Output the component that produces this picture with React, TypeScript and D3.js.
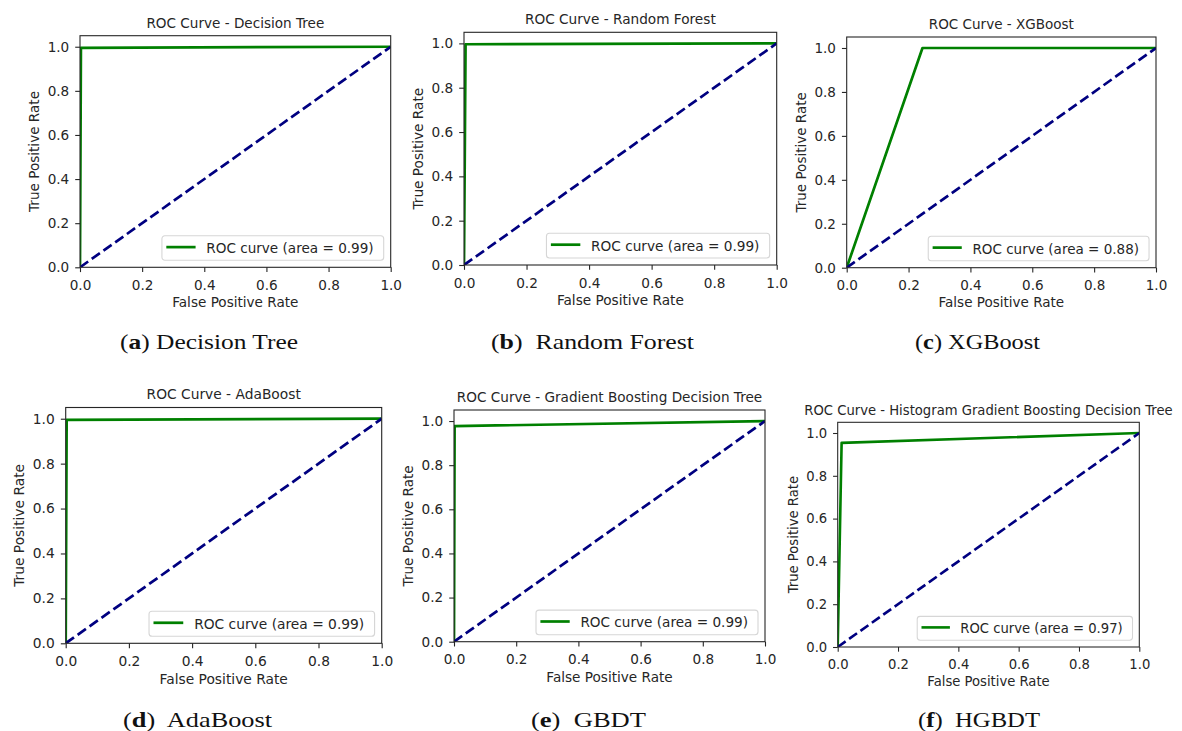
import React, { useEffect, useRef } from "react";
import * as d3 from "d3";

// ---- data ----
const modelTitles = [
  "Decision Tree",
  "Random Forest",
  "XGBoost",
  "AdaBoost",
  "Gradient Boosting Decision Tree",
  "Histogram Gradient Boosting Decision Tree",
];
const captionLetters = ["a", "b", "c", "d", "e", "f"];
const captionNames = ["Decision Tree", "Random Forest", "XGBoost", "AdaBoost", "GBDT", "HGBDT"];
const captionGaps = [" ", "  ", " ", "  ", "  ", "  "];
const aucValues = ["0.99", "0.99", "0.88", "0.99", "0.99", "0.97"];

const fprDT = [0, 0.003, 1];
const tprDT = [0, 0.995, 1];
const fprRF = [0, 0.005, 1];
const tprRF = [0, 0.996, 1];
const fprXGB = [0, 0.245, 1];
const tprXGB = [0, 1.0, 1];
const fprAda = [0, 0.003, 1];
const tprAda = [0, 0.995, 1];
const fprGBDT = [0, 0.002, 1];
const tprGBDT = [0, 0.977, 1];
const fprHGBDT = [0, 0.013, 1];
const tprHGBDT = [0, 0.954, 1];

const fprs = [fprDT, fprRF, fprXGB, fprAda, fprGBDT, fprHGBDT];
const tprs = [tprDT, tprRF, tprXGB, tprAda, tprGBDT, tprHGBDT];

const diagX = [0, 1];
const diagY = [0, 1];
const xTicks = [0, 0.2, 0.4, 0.6, 0.8, 1.0];
const yTicks = [0, 0.2, 0.4, 0.6, 0.8, 1.0];

// ---- layout (pixel boxes of each axes) ----
const panelBoxes = [
  { l: 80, t: 35.7, r: 390.7, b: 267.3 },
  { l: 464, t: 32.3, r: 776.7, b: 265 },
  { l: 846.7, t: 37, r: 1156, b: 267.7 },
  { l: 65.7, t: 407.5, r: 381.7, b: 643.3 },
  { l: 454, t: 410, r: 765, b: 641.7 },
  { l: 837.7, t: 422.3, r: 1139.3, b: 647 },
];
const captionBoxes = [
  { x: 120, y: 349, w: 178 },
  { x: 491, y: 349, w: 203 },
  { x: 915, y: 349, w: 125 },
  { x: 123, y: 727, w: 149 },
  { x: 531, y: 727, w: 115 },
  { x: 918, y: 727, w: 122 },
];

const SANS = "'DejaVu Sans', sans-serif";
const SERIF = "'Liberation Serif', 'DejaVu Serif', serif";
const TXT = "#262626";

export default function App() {
  const ref = useRef<SVGSVGElement | null>(null);

  useEffect(() => {
    const svg = d3.select(ref.current);
    svg.selectAll("*").remove();

    modelTitles.forEach((title, i) => {
      const box = panelBoxes[i];
      const W = box.r - box.l;
      const H = box.b - box.t;
      const s = W / 311;
      const fs = 13.6 * s;

      const x = d3.scaleLinear().domain([0, 1]).range([0, W]);
      const y = d3.scaleLinear().domain([0, 1.05]).range([H, 0]);

      const g = svg.append("g").attr("transform", `translate(${box.l},${box.t})`);

      const clipId = `clip-${i}`;
      g.append("clipPath").attr("id", clipId).append("rect").attr("width", W).attr("height", H);

      g.append("rect").attr("width", W).attr("height", H).attr("fill", "white");

      const plot = g.append("g").attr("clip-path", `url(#${clipId})`);

      const line = d3
        .line<[number, number]>()
        .x((d) => x(d[0]))
        .y((d) => y(d[1]));

      const roc: [number, number][] = fprs[i].map((f, k) => [f, tprs[i][k]]);
      plot
        .append("path")
        .attr("d", line(roc))
        .attr("fill", "none")
        .attr("stroke", "green")
        .attr("stroke-width", 2.7 * s)
        .attr("stroke-linejoin", "round");

      const diag: [number, number][] = diagX.map((v, k) => [v, diagY[k]]);
      plot
        .append("path")
        .attr("d", line(diag))
        .attr("fill", "none")
        .attr("stroke", "navy")
        .attr("stroke-width", 2.7 * s)
        .attr("stroke-dasharray", `${10 * s},${4.4 * s}`);

      // axes
      const tickLen = 4.8 * s;
      const xAxis = d3
        .axisBottom(x)
        .tickValues(xTicks)
        .tickSize(tickLen)
        .tickPadding(8.2 * s)
        .tickFormat(d3.format(".1f"));
      const yAxis = d3
        .axisLeft(y)
        .tickValues(yTicks)
        .tickSize(tickLen)
        .tickPadding(6 * s)
        .tickFormat(d3.format(".1f"));

      const gx = g.append("g").attr("transform", `translate(0,${H})`).call(xAxis);
      const gy = g.append("g").call(yAxis);
      [gx, gy].forEach((ax) => {
        ax.select(".domain").remove();
        ax.selectAll("line").attr("stroke", TXT).attr("stroke-width", 1.1 * s);
        ax.selectAll("text")
          .attr("fill", TXT)
          .style("font-family", SANS)
          .style("font-size", `${fs}px`);
      });

      // frame
      g.append("rect")
        .attr("width", W)
        .attr("height", H)
        .attr("fill", "none")
        .attr("stroke", TXT)
        .attr("stroke-width", 1.1 * s);

      // title
      g.append("text")
        .attr("x", W / 2)
        .attr("y", -8 * s)
        .attr("text-anchor", "middle")
        .attr("fill", TXT)
        .style("font-family", SANS)
        .style("font-size", `${fs}px`)
        .text(`ROC Curve - ${title}`);

      // axis labels
      g.append("text")
        .attr("x", W / 2)
        .attr("y", H + 40 * s)
        .attr("text-anchor", "middle")
        .attr("fill", TXT)
        .style("font-family", SANS)
        .style("font-size", `${fs}px`)
        .text("False Positive Rate");

      g.append("text")
        .attr("transform", `translate(${-46 * s},${H / 2}) rotate(-90)`)
        .attr("text-anchor", "middle")
        .attr("dy", "0.36em")
        .attr("fill", TXT)
        .style("font-family", SANS)
        .style("font-size", `${fs}px`)
        .text("True Positive Rate");

      // legend
      const lw = 222 * s;
      const lh = 24.6 * s;
      const lx = W - 7 * s - lw;
      const ly = H - 7 * s - lh;
      const lg = g.append("g").attr("transform", `translate(${lx},${ly})`);
      lg.append("rect")
        .attr("width", lw)
        .attr("height", lh)
        .attr("rx", 3 * s)
        .attr("fill", "white")
        .attr("fill-opacity", 0.8)
        .attr("stroke", "#d6d6d6")
        .attr("stroke-width", 1.1 * s);
      lg.append("line")
        .attr("x1", 4.4 * s)
        .attr("x2", 33.7 * s)
        .attr("y1", 11.4 * s)
        .attr("y2", 11.4 * s)
        .attr("stroke", "green")
        .attr("stroke-width", 2.7 * s);
      lg.append("text")
        .attr("x", 44.4 * s)
        .attr("y", 17.4 * s)
        .attr("fill", TXT)
        .style("font-family", SANS)
        .style("font-size", `${fs}px`)
        .text(`ROC curve (area = ${aucValues[i]})`);

      // caption
      const cb = captionBoxes[i];
      const cap = svg
        .append("text")
        .attr("x", cb.x)
        .attr("y", cb.y)
        .attr("fill", "#111")
        .attr("textLength", cb.w)
        .attr("lengthAdjust", "spacingAndGlyphs")
        .style("font-family", SERIF)
        .style("font-size", "21px")
        .style("white-space", "pre");
      cap.append("tspan").text("(");
      cap.append("tspan").attr("font-weight", "bold").text(captionLetters[i]);
      cap.append("tspan").text(")" + captionGaps[i] + captionNames[i]);
    });
  }, []);

  return (
    <svg
      ref={ref}
      width={1182}
      height={731}
      style={{ position: "absolute", left: 0, top: 0, background: "white" }}
    />
  );
}
